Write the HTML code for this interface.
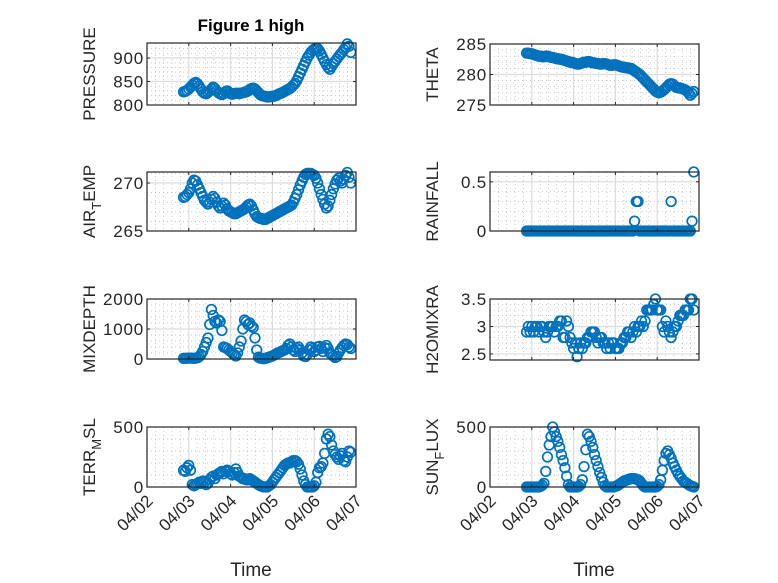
<!DOCTYPE html>
<html><head><meta charset="utf-8">
<style>
html,body{margin:0;padding:0;background:#fff;}
svg{display:block;font-family:"Liberation Sans",sans-serif;}
</style></head>
<body>
<svg id="fig" width="778" height="583" viewBox="0 0 778 583" xmlns="http://www.w3.org/2000/svg">
<rect width="778" height="583" fill="#fff"/>
<text x="251" y="31" text-anchor="middle" font-size="17" font-weight="bold" fill="#000">Figure 1 high</text>
<text x="251" y="576" text-anchor="middle" font-size="19" fill="#262626">Time</text>
<text x="594" y="576" text-anchor="middle" font-size="19" fill="#262626">Time</text>
</svg>
<script>
const xTickLabels = ["04/02","04/03","04/04","04/05","04/06","04/07"];
const tStart = 0.875, tStep = 1/24;
const pressure = [828,829,831,834,838,842,846,848, 845,840,834,828,825,824,827,830, 834,838,835,830,826,824,822,824, 828,830,827,824,823,824,825,825, 824,825,826,827,828,830,833,835, 836,834,830,826,822,820,819,818, 817,817,818,818,819,820,822,824, 825,827,829,831,833,835,838,842, 846,852,860,868,876,884,892,900, 906,912,916,919,921,920,915,908, 900,893,886,880,876,882,888,893, 898,903,908,912,918,922,930,925,912];
const airTemp = [268.5,268.6,268.8,269.0,269.4,270.0,270.3,270.2, 269.8,269.4,269.0,268.6,268.2,268.0,267.8,268.0, 268.3,268.6,268.4,268.0,267.6,267.4,267.6,267.9, 267.7,267.3,267.1,267.0,266.9,266.8,266.8,266.9, 267.0,267.1,267.2,267.3,267.5,267.7,267.8,267.6, 267.2,266.8,266.5,266.4,266.3,266.3,266.2,266.2, 266.3,266.4,266.5,266.6,266.7,266.8,266.9,267.0, 267.1,267.2,267.3,267.4,267.5,267.6,267.7,268.0, 268.4,268.8,269.3,269.8,270.2,270.6,270.9,271.0, 271.0,271.0,270.9,270.8,270.5,270.0,269.4,268.8, 268.3,267.8,267.4,267.6,268.2,268.8,269.4,269.9, 270.3,270.5,270.2,270.0,270.4,270.8,271.1,270.6,270.0];
const mixDepth = [20,20,25,30,30,25,20,30, 40,80,150,250,400,550,700,1150, 1650,1450,1250,1200,1300,1250,950,400, 380,350,300,250,200,150,100,200, 400,600,1000,1300,1250,1150,1200,1100, 1050,700,300,60,30,20,10,20, 40,60,80,100,130,160,200,220, 250,280,300,350,450,500,400,300, 250,350,400,300,200,100,80,150, 300,400,350,250,300,400,420,350, 250,380,450,350,200,150,100,50, 80,200,300,380,450,500,480,400,350];
const terrMsl = [140,130,160,180,140,20,10,20, 30,40,30,50,40,20,30,60, 80,90,70,100,110,120,130,110, 130,140,130,110,100,120,150,120, 90,80,70,70,60,60,70,60, 50,40,30,20,10,5,0,0, 0,10,20,40,60,80,100,120, 140,160,180,190,200,200,210,220, 220,210,190,150,100,50,20,0, 0,0,0,10,40,120,160,170, 200,280,400,440,420,350,300,270, 250,230,260,280,220,210,250,300,290];
const theta = [283.5,283.5,283.4,283.4,283.3,283.2,283.1,283.0, 283.0,282.9,282.9,283.0,283.0,282.9,282.8,282.8, 282.7,282.6,282.6,282.5,282.5,282.4,282.3,282.2, 282.1,282.0,282.0,281.9,281.8,281.7,281.7,281.8, 281.9,282.0,282.0,282.1,282.1,282.0,281.9,281.9, 281.8,281.8,281.7,281.7,281.8,281.8,281.7,281.6, 281.5,281.5,281.6,281.6,281.5,281.4,281.3,281.2, 281.2,281.1,281.1,281.0,281.0,280.8,280.6,280.4, 280.2,280.0,279.7,279.4,279.1,278.8,278.5,278.2, 277.9,277.6,277.3,277.1,277.0,277.1,277.3,277.5, 277.8,278.1,278.4,278.5,278.4,278.1,277.9,277.8, 277.8,277.7,277.6,277.5,277.3,277.0,276.6,276.9,277.2];
const rainfall = [0,0,0,0,0,0,0,0, 0,0,0,0,0,0,0,0, 0,0,0,0,0,0,0,0, 0,0,0,0,0,0,0,0, 0,0,0,0,0,0,0,0, 0,0,0,0,0,0,0,0, 0,0,0,0,0,0,0,0, 0,0,0,0,0,0,0.1,0.3, 0.3,0,0,0,0,0,0,0, 0,0,0,0,0,0,0,0, 0,0,0,0.3,0,0,0,0, 0,0,0,0,0,0,0,0.1,0.6];
const h2oMix = [2.9,3.0,2.9,3.0,2.9,3.0,3.0,2.9, 3.0,3.0,2.9,2.8,2.9,3.0,3.0,3.0, 2.9,3.0,3.0,3.1,3.1,2.8,2.8,3.1, 3.0,2.8,2.7,2.6,2.7,2.45,2.6,2.7, 2.6,2.7,2.7,2.8,2.8,2.9,2.9,2.9, 2.8,2.7,2.8,2.8,2.7,2.7,2.6,2.7, 2.6,2.7,2.7,2.6,2.6,2.6,2.7,2.7, 2.8,2.8,2.9,2.9,2.8,2.9,3.0,2.9, 3.0,3.0,3.1,3.0,3.1,3.3,3.3,3.3, 3.3,3.4,3.5,3.3,3.3,3.3,3.0,2.9, 3.1,3.0,2.9,2.8,2.9,3.0,3.0,3.1, 3.2,3.2,3.2,3.3,3.3,3.3,3.5,3.5,3.3];
const sunFlux = [0,0,0,0,0,0,0,0, 5,15,30,130,250,350,420,500, 460,420,380,330,270,220,160,90, 20,0,0,0,0,0,5,20, 60,170,310,440,420,380,330,270, 220,170,120,80,40,10,0,0, 0,0,0,5,10,20,30,40, 50,55,60,65,70,70,70,65, 60,50,30,10,0,0,0,0, 0,0,0,5,20,60,140,220, 280,300,270,240,200,170,140,110, 90,70,50,40,30,20,10,5,0];

const pressureTicks = [800,850,900];
const airTempTicks = [265,270];
const mixTicks = [0,1000,2000];
const terrTicks = [0,500];
const thetaTicks = [275,280,285];
const rainTicks = [0,0.5];
const h2oTicks = [2.5,3,3.5];
const sunTicks = [0,500];

const NS = "http://www.w3.org/2000/svg";
const svg = document.getElementById('fig');
function mk(tag, attrs, parent){const e=document.createElementNS(NS,tag);for(const k in attrs)e.setAttribute(k,attrs[k]);(parent||svg).appendChild(e);return e;}

const panels = [
 {id:'pressure', data:pressure, ticks:pressureTicks, y0:800, y1:932, minor:10, L:147, T:43, W:209, H:62, label:['PRESSURE']},
 {id:'air-temp', data:airTemp, ticks:airTempTicks, y0:265, y1:271.15, minor:1, L:147, T:172, W:209, H:59, label:['AIR','T','EMP']},
 {id:'mix-depth', data:mixDepth, ticks:mixTicks, y0:0, y1:2000, minor:200, L:147, T:299, W:209, H:60, label:['MIXDEPTH']},
 {id:'terr-msl', data:terrMsl, ticks:terrTicks, y0:0, y1:500, minor:100, L:147, T:427, W:209, H:60, label:['TERR','M','SL'], xlab:true},
 {id:'theta', data:theta, ticks:thetaTicks, y0:275, y1:285, minor:1, L:490, T:44, W:209, H:61, label:['THETA']},
 {id:'rainfall', data:rainfall, ticks:rainTicks, y0:0, y1:0.6, minor:0.1, L:490, T:172, W:209, H:59, label:['RAINFALL']},
 {id:'h2o-mix', data:h2oMix, ticks:h2oTicks, y0:2.39, y1:3.5, minor:0.1, L:490, T:299, W:209, H:61, label:['H2OMIXRA']},
 {id:'sun-flux', data:sunFlux, ticks:sunTicks, y0:0, y1:500, minor:100, L:490, T:427, W:209, H:60, label:['SUN','F','LUX'], xlab:true},
];

panels.forEach(p=>{
  const g = mk('g',{});
  
  
  const xs = t => p.L + t/5*p.W;
  const ys = v => p.T + p.H - (v-p.y0)/(p.y1-p.y0)*p.H;
  mk('rect',{x:p.L,y:p.T,width:p.W,height:p.H,fill:'#fff'},g);
  for(let d=0; d<5; d++) for(let k=1;k<5;k++){
    const x=xs(d+k/5);
    mk('line',{x1:x,x2:x,y1:p.T,y2:p.T+p.H,stroke:'#b8b8b8','stroke-width':0.7,'stroke-dasharray':'1 3'},g);
  }
  const start = Math.ceil(p.y0/p.minor - 1e-6)*p.minor;
  for(let v=start; v<=p.y1+1e-9; v+=p.minor){
    const y=ys(v);
    if(y<p.T+1||y>p.T+p.H-1) continue;
    mk('line',{x1:p.L,x2:p.L+p.W,y1:y,y2:y,stroke:'#b8b8b8','stroke-width':0.7,'stroke-dasharray':'1 3'},g);
  }
  for(let d=1; d<5; d++){
    const x=xs(d);
    mk('line',{x1:x,x2:x,y1:p.T,y2:p.T+p.H,stroke:'#dcdcdc','stroke-width':1.2},g);
  }
  p.ticks.forEach(v=>{
    const y=ys(v);
    if(y>p.T+1&&y<p.T+p.H-1) mk('line',{x1:p.L,x2:p.L+p.W,y1:y,y2:y,stroke:'#dcdcdc','stroke-width':1.2},g);
  });
  p.data.forEach((v,i)=>{
    const c = mk('circle',{cx:xs(tStart+i*tStep).toFixed(2),cy:ys(v).toFixed(2),r:4.8,fill:'none',stroke:'#0072BD','stroke-width':1.7},g);
    
    
  });
  mk('rect',{x:p.L,y:p.T,width:p.W,height:p.H,fill:'none',stroke:'#262626','stroke-width':1.2},g);
  for(let d=0; d<=5; d++){
    const x=xs(d);
    mk('line',{x1:x,x2:x,y1:p.T+p.H,y2:p.T+p.H-3,stroke:'#262626','stroke-width':1},g);
    mk('line',{x1:x,x2:x,y1:p.T,y2:p.T+3,stroke:'#262626','stroke-width':1},g);
    if(p.xlab){
      const ax=x+7, ay=p.T+p.H+15;
      const tx = mk('text',{x:ax,y:ay,'text-anchor':'end','font-size':17,fill:'#262626',transform:`rotate(-45 ${ax} ${ay})`},g);
      tx.textContent = xTickLabels[d];
      
      
    }
  }
  p.ticks.forEach(v=>{
    const y=ys(v);
    mk('line',{x1:p.L,x2:p.L+3,y1:y,y2:y,stroke:'#262626','stroke-width':1},g);
    mk('line',{x1:p.L+p.W,x2:p.L+p.W-3,y1:y,y2:y,stroke:'#262626','stroke-width':1},g);
    const t = mk('text',{x:p.L-3,y:y+6,'text-anchor':'end','font-size':17,'letter-spacing':'0.8',fill:'#262626'},g);
    t.textContent = String(v);
    
    
  });
  const lx = p.L < 300 ? 95 : 438;
  const ly = p.T + p.H/2;
  const yl = mk('text',{x:lx,y:ly,'text-anchor':'middle','font-size':17,fill:'#262626',transform:`rotate(-90 ${lx} ${ly})`},g);
  
  
  if(p.label.length===1){ yl.textContent=p.label[0]; }
  else{
    const a=mk('tspan',{},yl); a.textContent=p.label[0];
    const b=mk('tspan',{dy:6,'font-size':13},yl); b.textContent=p.label[1];
    const c=mk('tspan',{dy:-6},yl); c.textContent=p.label[2];
  }
});
</script>
</body></html>
